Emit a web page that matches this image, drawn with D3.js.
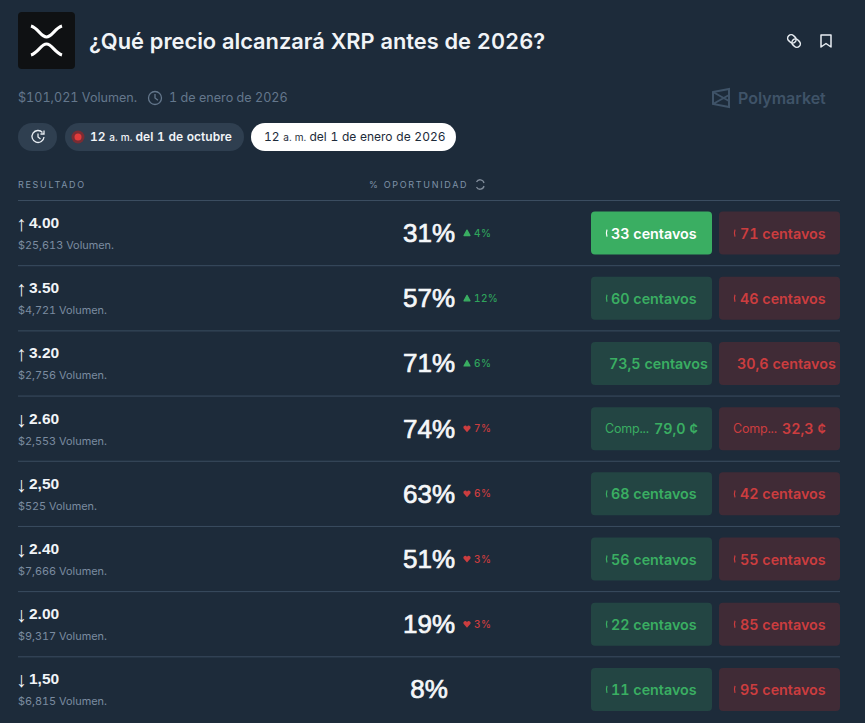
<!DOCTYPE html>
<html>
<head>
<meta charset="utf-8">
<script src="https://cdnjs.cloudflare.com/ajax/libs/d3/7.8.5/d3.min.js"></script>
<style>
  html, body { margin: 0; padding: 0; background: #1d2b3a; }
  svg { display: block; font-family: Inter, "Noto Sans", sans-serif; font-variant-numeric: tabular-nums; }
  .lib { font-family: "Liberation Sans", Arial, sans-serif; }
</style>
</head>
<body>
<svg id="chart" width="865" height="723"></svg>
<script>
// data
var strikes   = ["4.00", "3.50", "3.20", "2.60", "2,50", "2.40", "2.00", "1,50"];
var arrows    = ["↑", "↑", "↑", "↓", "↓", "↓", "↓", "↓"];
var volumes   = ["$25,613", "$4,721", "$2,756", "$2,553", "$525", "$7,666", "$9,317", "$6,815"];
var chances   = [31, 57, 71, 74, 63, 51, 19, 8];
var changes   = [4, 12, 6, -7, -6, -3, -3, 0];
var yesLabels = ["33 centavos", "60 centavos", "73,5 centavos", "79,0 ¢", "68 centavos", "56 centavos", "22 centavos", "11 centavos"];
var noLabels  = ["71 centavos", "46 centavos", "30,6 centavos", "32,3 ¢", "42 centavos", "55 centavos", "85 centavos", "95 centavos"];

var GREEN = "#3aae62", RED = "#cc3d3f";

var svg = d3.select("#chart");
var rowIdx = d3.range(strikes.length);

var y = d3.scaleBand().domain(rowIdx).range([200.5, 722]);
var xPos = { left: 18, chance: 429, deltaIcon: 467, delta: 474, yes: 591, no: 719, right: 840 };
var btnW = 121, btnH = 43;

// header
svg.append("rect").attr("x", 18).attr("y", 12).attr("width", 57).attr("height", 57).attr("rx", 4).attr("fill", "#0f1113");
svg.append("path")
  .attr("d", "M31 26 C38 28 41 37 46.500 37 C52 37 55 28 62 26 M31 55 C38 53 41 44 46.500 44 C52 44 55 53 62 55")
  .attr("fill", "none").attr("stroke", "#fff").attr("stroke-width", 3);
svg.append("text").attr("x", 89).attr("y", 49).attr("fill", "#f1f4f7")
  .attr("font-size", 21.800).attr("font-weight", 600).text("¿Qué precio alcanzará XRP antes de 2026?");

// link + bookmark
var link = svg.append("g").attr("transform", "translate(794,41) rotate(-45)")
  .attr("fill", "none").attr("stroke", "#e8edf2").attr("stroke-width", 1.500);
link.append("rect").attr("x", -3.500).attr("y", -7.500).attr("width", 7).attr("height", 9).attr("rx", 3.500);
link.append("rect").attr("x", -3.500).attr("y", -1.500).attr("width", 7).attr("height", 9).attr("rx", 3.500);
svg.append("path").attr("d", "M821 35 H831 V47 L826 43.500 L821 47 Z")
  .attr("fill", "none").attr("stroke", "#e8edf2").attr("stroke-width", 1.500).attr("stroke-linejoin", "round");

// volume line
svg.append("text").attr("x", 18).attr("y", 102).attr("fill", "#64778c").attr("font-size", 12.600).text("$101,021 Volumen.");
function clock(cx, cy, r, col) {
  svg.append("circle").attr("cx", cx).attr("cy", cy).attr("r", r).attr("fill", "none").attr("stroke", col).attr("stroke-width", 1.300);
  svg.append("path").attr("d", "M" + cx + " " + (cy - r * 0.6) + " V" + cy + " L" + (cx + r * 0.45) + " " + (cy + r * 0.35))
    .attr("fill", "none").attr("stroke", col).attr("stroke-width", 1.300);
}
clock(155, 98, 6.500, "#64778c");
svg.append("text").attr("x", 169).attr("y", 102).attr("fill", "#64778c").attr("font-size", 12.600).text("1 de enero de 2026");

// polymarket mark
svg.append("path").attr("d", "M713 92 L729 89 V107 L713 104 Z M713 92 L729 101 M713 104 L729 95")
  .attr("fill", "none").attr("stroke", "#3f5368").attr("stroke-width", 2);
svg.append("text").attr("x", 738).attr("y", 104).attr("fill", "#3f5368").attr("font-size", 16).attr("font-weight", 600).text("Polymarket");

// date pills
var pillFill = "#2f3f50";
svg.append("rect").attr("x", 18).attr("y", 123).attr("width", 39).attr("height", 28).attr("rx", 14).attr("fill", pillFill);
// history icon: ring with a small gap and arrow tip
svg.append("path").attr("d", "M42.500 132.500 A6 6 0 1 0 44 137 M38 133.500 V137 L40.500 139 M44 130.500 V134 H40.500")
  .attr("fill", "none").attr("stroke", "#e8edf2").attr("stroke-width", 1.300);
svg.append("rect").attr("x", 65).attr("y", 123).attr("width", 179).attr("height", 28).attr("rx", 14).attr("fill", pillFill);
svg.append("circle").attr("cx", 78).attr("cy", 137).attr("r", 6.500).attr("fill", "#7a2c33");
svg.append("circle").attr("cx", 78).attr("cy", 137).attr("r", 3.500).attr("fill", "#e23b3b");
var p1 = svg.append("text").attr("x", 90).attr("y", 141).attr("fill", "#f1f4f7").attr("font-size", 12).attr("font-weight", 600).attr("word-spacing", 0.500);
p1.append("tspan").text("12 ");
p1.append("tspan").attr("font-size", 10).attr("font-weight", 500).text("a. m. ");
p1.append("tspan").text("del 1 de octubre");
svg.append("rect").attr("x", 251).attr("y", 123).attr("width", 205).attr("height", 28).attr("rx", 14).attr("fill", "#fff");
var p2 = svg.append("text").attr("x", 264).attr("y", 141).attr("fill", "#1d2b3a").attr("font-size", 12).attr("font-weight", 400).attr("word-spacing", 0.500);
p2.append("tspan").text("12 ");
p2.append("tspan").attr("font-size", 10).text("a. m. ");
p2.append("tspan").text("del 1 de enero de 2026");

// table head
svg.append("text").attr("x", 18).attr("y", 188).attr("fill", "#7f92a8").attr("font-size", 9).attr("letter-spacing", 1.700).text("RESULTADO");
svg.append("text").attr("x", 369).attr("y", 188).attr("fill", "#7f92a8").attr("font-size", 9).attr("letter-spacing", 1.700).text("% OPORTUNIDAD");
svg.append("path").attr("d", "M476.500 182 A4 4 0 0 1 484 183 M484 186 A4 4 0 0 1 476.500 187")
  .attr("fill", "none").attr("stroke", "#7f8b99").attr("stroke-width", 1.300);

// rows
var rows = svg.selectAll("g.row").data(rowIdx).enter().append("g").attr("class", "row")
  .attr("transform", function(d) { return "translate(0," + y(d) + ")"; });
var mid = y.bandwidth() / 2;

rows.append("line").attr("x1", xPos.left).attr("x2", xPos.right).attr("y1", 0).attr("y2", 0)
  .attr("stroke", "#3b4d60").attr("stroke-width", 1);

rows.append("text").attr("class", "lib").attr("x", xPos.left - 2).attr("y", mid - 2).attr("fill", "#f1f4f7")
  .attr("font-size", 21).text(function(d) { return arrows[d]; });
rows.append("text").attr("class", "lib").attr("x", 29).attr("y", mid - 5).attr("fill", "#f1f4f7")
  .attr("font-size", 15.500).attr("font-weight", 700).text(function(d) { return strikes[d]; });
rows.append("text").attr("x", xPos.left).attr("y", mid + 16).attr("fill", "#7b8ca0")
  .attr("font-size", 10.900).text(function(d) { return volumes[d] + " Volumen."; });

rows.append("text").attr("class", "lib").attr("x", xPos.chance).attr("y", mid + 9).attr("text-anchor", "middle")
  .attr("fill", "#f5f7f9").attr("stroke", "#f5f7f9").attr("stroke-width", 0.700)
  .attr("font-size", 26)
  .text(function(d) { return chances[d] + "%"; });

// change markers, row with no change has none
var moved = rows.filter(function(d) { return changes[d] !== 0; });
moved.append("path")
  .attr("transform", function() { return "translate(" + xPos.deltaIcon + "," + mid + ")"; })
  .attr("d", function(d) {
    return changes[d] > 0
      ? "M0 -3 L3 2.500 H-3 Z"
      : "M0 3.500 L-3.500 -0.500 A1.800 1.800 0 0 1 0 -2 A1.800 1.800 0 0 1 3.500 -0.500 Z";
  })
  .attr("stroke-linejoin", "round").attr("stroke-width", function(d) { return changes[d] > 0 ? 1.200 : 0; })
  .attr("stroke", function(d) { return changes[d] > 0 ? GREEN : RED; })
  .attr("fill", function(d) { return changes[d] > 0 ? GREEN : RED; });
moved.append("text").attr("x", xPos.delta).attr("y", mid + 3.500)
  .attr("fill", function(d) { return changes[d] > 0 ? "#2fa35c" : RED; })
  .attr("font-size", 10).attr("font-weight", 500).attr("letter-spacing", 0.400)
  .text(function(d) { return Math.abs(changes[d]) + "%"; });

// buttons
function buttons(key, labels, col, bg, activeRow) {
  var b = rows.append("g").attr("transform", "translate(" + xPos[key] + "," + (mid - btnH / 2) + ")");
  b.append("rect").attr("width", btnW).attr("height", btnH).attr("rx", 4)
    .attr("fill", function(d) { return d === activeRow ? col : bg; });
  var fg = function(d) { return d === activeRow ? "#fff" : col; };
  var off = key === "yes" ? 20 : 21;
  b.append("text").attr("y", btnH / 2 + 5.500).attr("font-size", 14.300).attr("font-weight", 600)
    .attr("fill", fg)
    .attr("x", function(d) {
      var l = labels[d];
      if (l.indexOf("¢") > 0) return 63;
      return l.indexOf(",") > 0 ? 18 : off;
    })
    .text(function(d) { return labels[d]; });
  // clipped remainder of the hidden "Comprar" word
  b.filter(function(d) { return labels[d].indexOf("centavos") > 0 && labels[d].indexOf(",") < 0; })
    .append("path").attr("d", "M16 " + (btnH / 2 - 3.500) + " Q14.800 " + (btnH / 2) + " 16 " + (btnH / 2 + 3.500))
    .attr("fill", "none").attr("stroke", fg).attr("stroke-width", 1.200);
  b.filter(function(d) { return labels[d].indexOf("¢") > 0; })
    .append("text").attr("x", 14).attr("y", btnH / 2 + 4.500).attr("font-size", 12.500).attr("font-weight", 400)
    .attr("letter-spacing", -0.200).attr("fill", col).text("Comp...");
}
buttons("yes", yesLabels, GREEN, "#234543", 0);
buttons("no", noLabels, RED, "#402b36", -1);
</script>
</body>
</html>
